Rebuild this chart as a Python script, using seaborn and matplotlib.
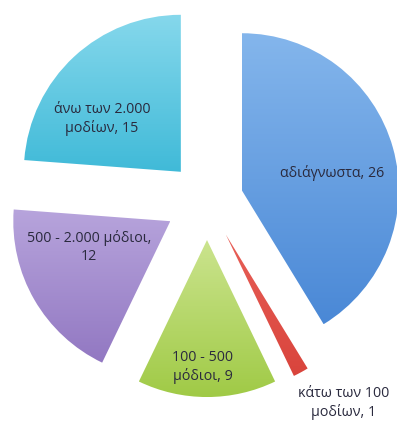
import numpy as np
import matplotlib
matplotlib.use("Agg")
import matplotlib.pyplot as plt
from matplotlib.colors import LinearSegmentedColormap
import seaborn as sns

# ---- data ----
categories = ["αδιάγνωστα", "κάτω των 100 μοδίων", "100 - 500 μόδιοι",
              "500 - 2.000 μόδιοι", "άνω των 2.000 μοδίων"]
values = [26, 1, 9, 12, 15]
label_texts = ["αδιάγνωστα, 26", "κάτω των 100\nμοδίων, 1", "100 - 500\nμόδιοι, 9",
               "500 - 2.000 μόδιοι,\n12", "άνω των 2.000\nμοδίων, 15"]

# ---- style ----
top_colors = ["#84b6ec", "#e86058", "#cbe48e", "#b7a4dc", "#86d8ec"]
bottom_colors = ["#4a88d6", "#d9443c", "#a0ca46", "#9278c2", "#40bad8"]
RADIUS = 157
explode_frac = [0.23, 0.25, 0.255, 0.27, 0.245]
label_pos = [(332, 251), (344, 21), (203, 57), (89, 177), (102, 305)]

sns.set_theme(style="white")
plt.rcParams['font.family'] = ['Open Sans', 'DejaVu Sans']

W, H = 397, 424
fig = plt.figure(figsize=(W / 100, H / 100), dpi=100)
ax = fig.add_axes([0, 0, 1, 1])

wedges, _ = ax.pie(values, startangle=90, counterclock=False,
                   explode=[e * RADIUS for e in explode_frac],
                   center=(207, 224), radius=RADIUS, frame=False,
                   wedgeprops=dict(linewidth=0))

grad = np.linspace(0, 1, 256).reshape(-1, 1)
for w, tc, bc in zip(wedges, top_colors, bottom_colors):
    bb = w.get_path().get_extents(w.get_transform() - ax.transData)
    w.set_facecolor("none")
    w.set_edgecolor("none")
    cmap = LinearSegmentedColormap.from_list("g", [bc, tc])
    im = ax.imshow(grad, extent=(bb.x0, bb.x1, bb.y0, bb.y1), origin="lower",
                   cmap=cmap, aspect="auto", zorder=1, interpolation="bilinear")
    im.set_clip_path(w)

for txt, (x, y) in zip(label_texts, label_pos):
    ax.text(x, y, txt, ha="center", va="center", fontsize=10.3,
            color="#2a2a3e", linespacing=1.2, zorder=5)

ax.set_xlim(0, W)
ax.set_ylim(0, H)
ax.set_aspect("equal")
ax.axis("off")
fig.savefig("out.png", dpi=100, facecolor="white")
